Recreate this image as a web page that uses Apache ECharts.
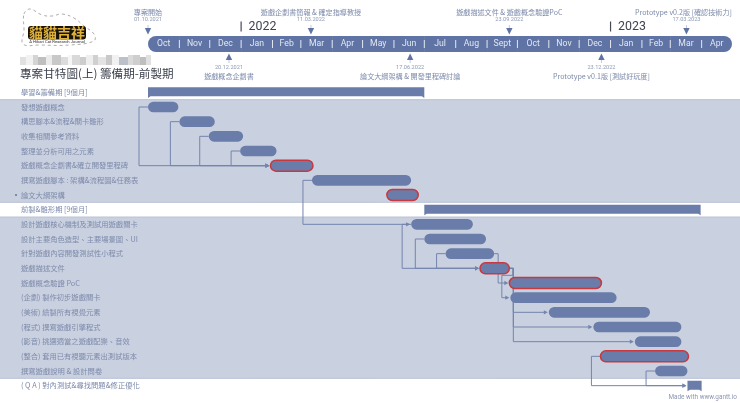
<!DOCTYPE html>
<html><head><meta charset="utf-8">
<style>html,body{margin:0;padding:0;background:#fff}#c{width:740px;height:403px}</style>
<script src="https://cdn.jsdelivr.net/npm/echarts@6/dist/echarts.min.js"></script>
</head><body><div id="c"></div>
<script>
const taskNames = ['學習&籌備期 [9個月]','發想遊戲概念','構思腳本&流程&關卡雛形','收集相關參考資料','整理並分析可用之元素','遊戲概念企劃書&確立開發里程碑','撰寫遊戲腳本 : 架構&流程圖&任務表','論文大綱架構','前製&雛形期 [9個月]','設計遊戲核心機制及測試用遊戲關卡','設計主要角色造型、主要場景圖、UI','針對遊戲內容開發測試性小程式','遊戲描述文件','遊戲概念驗證 PoC','(企劃) 製作初步遊戲關卡','(美術) 繪製所有視覺元素','(程式) 撰寫遊戲引擎程式','(影音) 挑選適當之遊戲配樂、音效','(整合) 套用已有視聽元素出測試版本','撰寫遊戲說明 & 設計問卷','( Q A ) 對內測試&尋找問題&修正優化'];
const taskStarts = ['2021-10-01','2021-10-01','2021-11-01','2021-11-30','2021-12-31','2022-01-30','2022-03-12','2022-05-25','2022-07-01','2022-06-18','2022-07-01','2022-07-22','2022-08-25','2022-09-23','2022-09-24','2022-11-01','2022-12-15','2023-01-25','2022-12-22','2023-02-14','2023-03-18'];
const taskEnds = ['2022-07-01','2021-10-31','2021-12-06','2022-01-03','2022-02-05','2022-03-13','2022-06-18','2022-06-25','2023-03-31','2022-08-18','2022-08-31','2022-09-08','2022-09-23','2022-12-23','2023-01-07','2023-02-09','2023-03-12','2023-03-12','2023-03-19','2023-03-18','2023-04-01'];
const criticalRows = [5,7,12,13,18];
const summaryRows = [0,8,20];
const shadedRanges = [[1,7],[9,19]];
const bulletRows = [7];
const linksStartStart = [[1,5],[2,5],[3,5],[4,5],[6,9],[9,12],[10,12],[11,12],[18,20],[19,20]];
const linksFinishStart = [[11,13],[12,15],[12,16],[12,17]];
const linksBack = [[12,14]];
const months = ['Oct','Nov','Dec','Jan','Feb','Mar','Apr','May','Jun','Jul','Aug','Sept','Oct','Nov','Dec','Jan','Feb','Mar','Apr'];
const monthStarts = ['2021-10-01','2021-11-01','2021-12-01','2022-01-01','2022-02-01','2022-03-01','2022-04-01','2022-05-01','2022-06-01','2022-07-01','2022-08-01','2022-09-01','2022-10-01','2022-11-01','2022-12-01','2023-01-01','2023-02-01','2023-03-01','2023-04-01','2023-05-01'];
const yearLabels = ['2022','2023'];
const yearStarts = ['2022-01-01','2023-01-01'];
const milestoneTitles = ['專案開始','遊戲企劃書簡報 & 確定指導教授','遊戲描述文件 & 遊戲概念驗證PoC','Prototype v0.2版 [確認技術力]','遊戲概念企劃書','論文大綱架構 & 開發里程碑討論','Prototype v0.1版 [測試好玩度]'];
const milestoneDates = ['2021-10-01','2022-03-11','2022-09-23','2023-03-17','2021-12-20','2022-06-17','2022-12-23'];
const milestoneDateText = ['01.10.2021','11.03.2022','23.09.2022','17.03.2023','20.12.2021','17.06.2022','23.12.2022'];
const milestoneAbove = [1,1,1,1,0,0,0];

const FONT = '"Noto Sans CJK TC","Noto Sans",sans-serif';
const BAR = '#6a7daa', BAND = '#5f74a4', TXT = '#7d8aab', LINK = '#7485ae';
const ts = s => Date.parse(s + 'T00:00:00Z');
const axisMin = ts(monthStarts[0]), axisMax = ts(monthStarts[monthStarts.length - 1]);

function renderBands(params, api) {
  const a = api.coord([axisMin, api.value(1)]), b = api.coord([axisMin, api.value(2)]);
  const h = api.size([0, 1])[1];
  const W = api.getWidth();
  return { type: 'rect', shape: { x: -1, y: a[1] - h / 2, width: W + 2, height: b[1] - a[1] + h },
    style: { fill: '#c9d0df', stroke: '#b9c2d5', lineWidth: 1 } };
}
function renderBullet(params, api) {
  const p = api.coord([axisMin, api.value(1)]);
  return { type: 'rect', shape: { x: 15, y: p[1] - 1, width: 2, height: 2 }, style: { fill: TXT } };
}
function arrow(x, y) {
  return { type: 'polygon', shape: { points: [[x - 5, y - 2.2], [x - 1, y], [x - 5, y + 2.2]] }, style: { fill: LINK } };
}
function renderLink(params, api) {
  const from0 = api.coord([api.value(0), api.value(1)]);
  const from1 = api.coord([api.value(2), api.value(1)]);
  const to = api.coord([api.value(3), api.value(4)]);
  const kind = api.value(5);
  let pts;
  if (kind === 0) {
    const vx = from0[0] - 9;
    pts = [[from0[0], from0[1]], [vx, from0[1]], [vx, to[1]], [to[0] - 3, to[1]]];
  } else if (kind === 1) {
    const vx = from1[0] + 4;
    pts = [[from1[0], from1[1]], [vx, from1[1]], [vx, to[1]], [to[0] - 3, to[1]]];
  } else {
    const vx = from1[0] + 3.5, mid = from1[1] + 7, bx = to[0] - 8.5;
    pts = [[from1[0], from1[1]], [vx, from1[1]], [vx, mid], [bx, mid], [bx, to[1]], [to[0] - 3, to[1]]];
  }
  return { type: 'group', children: [
    { type: 'polyline', shape: { points: pts }, style: { fill: null, stroke: LINK, lineWidth: 1 } },
    arrow(to[0], to[1])
  ] };
}
function renderTask(params, api) {
  const s = api.coord([api.value(0), api.value(1)]), e = api.coord([api.value(2), api.value(1)]);
  const kind = api.value(3), y = s[1];
  if (kind === 2) {
    return { type: 'polygon', shape: { points: [[s[0], y - 5], [e[0], y - 5], [e[0], y + 5.6], [e[0] - 2.5, y + 4], [s[0] + 2.5, y + 4], [s[0], y + 5.6]] }, style: { fill: BAR } };
  }
  const h = kind === 1 ? 11 : 10.6;
  return { type: 'rect', shape: { x: s[0], y: y - h / 2, width: e[0] - s[0], height: h, r: h / 2 },
    style: kind === 1 ? { fill: BAR, stroke: '#c8383f', lineWidth: 1.5 } : { fill: BAR } };
}
function renderMonth(params, api) {
  const i = params.dataIndex, n = months.length;
  const a = api.coord([api.value(0), 0]), b = api.coord([api.value(1), 1]);
  const x = a[0], w = b[0] - a[0], top = b[1], h = a[1] - b[1], r = h / 2;
  const kids = [{ type: 'rect', shape: { x, y: top, width: w + (i < n - 1 ? 0.5 : 0), height: h, r: i === 0 ? [r, 0, 0, r] : i === n - 1 ? [0, r, r, 0] : 0 }, style: { fill: BAND } },
    { type: 'text', style: { x: x + w / 2, y: top + h / 2, text: months[i], fill: '#e3e7f1', fontSize: 8.7, fontFamily: 'Roboto', align: 'center', verticalAlign: 'middle' } }];
  if (i > 0) kids.push({ type: 'rect', z2: 5, shape: { x: x - 0.5, y: top + 4, width: 1, height: 8 }, style: { fill: '#e3e7f1' } });
  return { type: 'group', children: kids };
}
function renderYear(params, api) {
  const p = api.coord([api.value(0), 1]);
  return { type: 'group', children: [
    { type: 'rect', shape: { x: p[0] - 0.6, y: p[1] - 14.5, width: 1.2, height: 10 }, style: { fill: '#444a58' } },
    { type: 'text', style: { x: p[0] + 7.5, y: p[1] - 9.5, text: yearLabels[params.dataIndex], fill: '#3d4350', fontSize: 12.4, fontFamily: 'Roboto', align: 'left', verticalAlign: 'middle' } }
  ] };
}
function renderMilestone(params, api) {
  const i = params.dataIndex, above = api.value(1) === 1;
  const p = api.coord([api.value(0), above ? 1 : 0]);
  const x = p[0], y = p[1];
  const t = { fill: TXT, fontFamily: FONT, align: 'center', verticalAlign: 'middle' };
  if (above) return { type: 'group', children: [
    { type: 'polygon', shape: { points: [[x - 3.2, y - 8], [x + 3.2, y - 8], [x, y - 1.5]] }, style: { fill: BAND } },
    { type: 'line', shape: { x1: x, y1: y - 11, x2: x, y2: y - 8 }, style: { stroke: '#aab4cc', lineWidth: 0.7 } },
    { type: 'text', style: { x, y: y - 16, text: milestoneDateText[i], fontSize: 5.6, fontFamily: 'Roboto', fill: '#8f9bb6', align: 'center', verticalAlign: 'middle' } },
    { type: 'text', style: Object.assign({}, t, { x: x - (i === 3 ? 3 : 0), y: y - 24, text: milestoneTitles[i], fontSize: 7.1 }) }
  ] };
  return { type: 'group', children: [
    { type: 'polygon', shape: { points: [[x - 3.2, y + 8], [x + 3.2, y + 8], [x, y + 1.5]] }, style: { fill: BAND } },
    { type: 'line', shape: { x1: x, y1: y + 8, x2: x, y2: y + 11 }, style: { stroke: '#aab4cc', lineWidth: 0.7 } },
    { type: 'text', style: { x, y: y + 15.5, text: milestoneDateText[i], fontSize: 5.6, fontFamily: 'Roboto', fill: '#8f9bb6', align: 'center', verticalAlign: 'middle' } },
    { type: 'text', style: Object.assign({}, t, { x, y: y + 24, text: milestoneTitles[i], fontSize: 7.1 }) }
  ] };
}

const linkData = [];
const addLinks = (list, kind) => list.forEach(([f, t]) => linkData.push([ts(taskStarts[f]), f, ts(taskEnds[f]), ts(taskStarts[t]), t, kind]));
addLinks(linksStartStart, 0); addLinks(linksFinishStart, 1); addLinks(linksBack, 2);

const taskData = taskNames.map((_, i) => [ts(taskStarts[i]), i, ts(taskEnds[i]), summaryRows.includes(i) ? 2 : criticalRows.includes(i) ? 1 : 0]);

// decorative blurred strip under the logo
const mosaicWidths = [6,7,5,8,6,9,7,4,8,6,7,5,8,6,7,9,5,7,6,5];
const mosaicShades = ['#dcdcdc','#f0f0f0','#cccccc','#b4b4b4','#e8e8e8','#bebebe','#d6d6d6','#f4f4f4','#d2d2d2','#c4c4c4','#ebebeb','#c8c8c8','#dedede','#c0c0c0','#efefef','#b0b5be','#d4d4d4','#c6c6c6','#b4b4b4','#dadada'];
let mx = 20;
const mosaic = mosaicWidths.map((w, i) => { const el = { type: 'rect', shape: { x: mx, y: 55 + (i % 3 === 0 ? 2 : 0), width: w, height: i % 3 === 0 ? 8 : 10 }, style: { fill: mosaicShades[i], opacity: 0.85 } }; mx += w; return el; });
const blob = [[24,14],[30,9],[42,15],[52,16],[62,14],[74,18],[84,26],[94,34],[94,41],[70,45],[40,45],[23,44],[24,30]];

const chart = echarts.init(document.getElementById('c'), null, { renderer: 'canvas', width: 740, height: 403 });
chart.setOption({
  animation: false, backgroundColor: '#fff', useUTC: true,
  grid: [
    { left: 148, right: 8, top: 36, height: 16 },
    { left: 148, right: 8, top: 85, height: 308 }
  ],
  xAxis: [
    { type: 'time', gridIndex: 0, min: axisMin, max: axisMax, show: false },
    { type: 'time', gridIndex: 1, min: axisMin, max: axisMax, show: false }
  ],
  yAxis: [
    { type: 'value', gridIndex: 0, min: 0, max: 1, show: false },
    { type: 'category', gridIndex: 1, inverse: true, data: taskNames,
      axisLine: { show: false }, axisTick: { show: false }, splitLine: { show: false },
      axisLabel: { interval: 0, align: 'left', margin: 127, color: TXT, fontSize: 7.3, fontFamily: FONT } }
  ],
  series: [
    { type: 'custom', name: 'bands', xAxisIndex: 1, yAxisIndex: 1, z: -1, silent: true, clip: false, renderItem: renderBands, data: shadedRanges.map(r => [axisMin, r[0], r[1]]), encode: { x: 0, y: 1 } },
    { type: 'custom', name: 'bullets', xAxisIndex: 1, yAxisIndex: 1, z: 1, silent: true, clip: false, renderItem: renderBullet, data: bulletRows.map(r => [axisMin, r]), encode: { x: 0, y: 1 } },
    { type: 'custom', name: 'links', xAxisIndex: 1, yAxisIndex: 1, z: 1, silent: true, clip: false, renderItem: renderLink, data: linkData, encode: { x: 0, y: 1 } },
    { type: 'custom', name: 'tasks', xAxisIndex: 1, yAxisIndex: 1, z: 3, silent: true, clip: false, renderItem: renderTask, data: taskData, encode: { x: [0, 2], y: 1 } },
    { type: 'custom', name: 'months', xAxisIndex: 0, yAxisIndex: 0, z: 2, silent: true, clip: false, renderItem: renderMonth, data: months.map((m, i) => [ts(monthStarts[i]), ts(monthStarts[i + 1])]), encode: { x: [0, 1] } },
    { type: 'custom', name: 'years', xAxisIndex: 0, yAxisIndex: 0, z: 2, silent: true, clip: false, renderItem: renderYear, data: yearStarts.map(s => [ts(s)]), encode: { x: 0 } },
    { type: 'custom', name: 'milestones', xAxisIndex: 0, yAxisIndex: 0, z: 3, silent: true, clip: false, renderItem: renderMilestone, data: milestoneDates.map((s, i) => [ts(s), milestoneAbove[i]]), encode: { x: 0 } }
  ],
  graphic: [
    { type: 'polygon', silent: true, z: 5, shape: { points: blob, smooth: 0.4 }, style: { fill: 'none', stroke: '#8a8a8a', lineWidth: 0.7, lineDash: [3, 3] } },
    { type: 'rect', silent: true, z: 6, shape: { x: 28, y: 26, width: 58, height: 13.5, r: 3 }, style: { fill: '#1a1408' } },
    { type: 'text', silent: true, z: 7, style: { x: 57, y: 33, text: '貓貓吉祥', fill: '#e0b23c', fontSize: 14, fontWeight: 'bold', fontFamily: FONT, align: 'center', verticalAlign: 'middle' } },
    { type: 'text', silent: true, z: 7, style: { x: 57, y: 41.5, text: 'A Hikari Cat Research Journal', fill: '#333', fontSize: 4.2, fontFamily: 'Roboto', align: 'center', verticalAlign: 'middle' } },
    { type: 'group', silent: true, z: 5, children: mosaic },
    { type: 'text', silent: true, z: 7, style: { x: 20, y: 74, text: '專案甘特圖(上) 籌備期-前製期', fill: '#3a3f4b', fontSize: 11.6, fontFamily: FONT, align: 'left', verticalAlign: 'middle' } },
    { type: 'text', silent: true, z: 7, style: { x: 737, y: 397.5, text: 'Made with www.gantt.io', fill: '#8d97b0', fontSize: 6.4, fontFamily: 'Roboto', align: 'right', verticalAlign: 'middle' } }
  ]
});
</script></body></html>
